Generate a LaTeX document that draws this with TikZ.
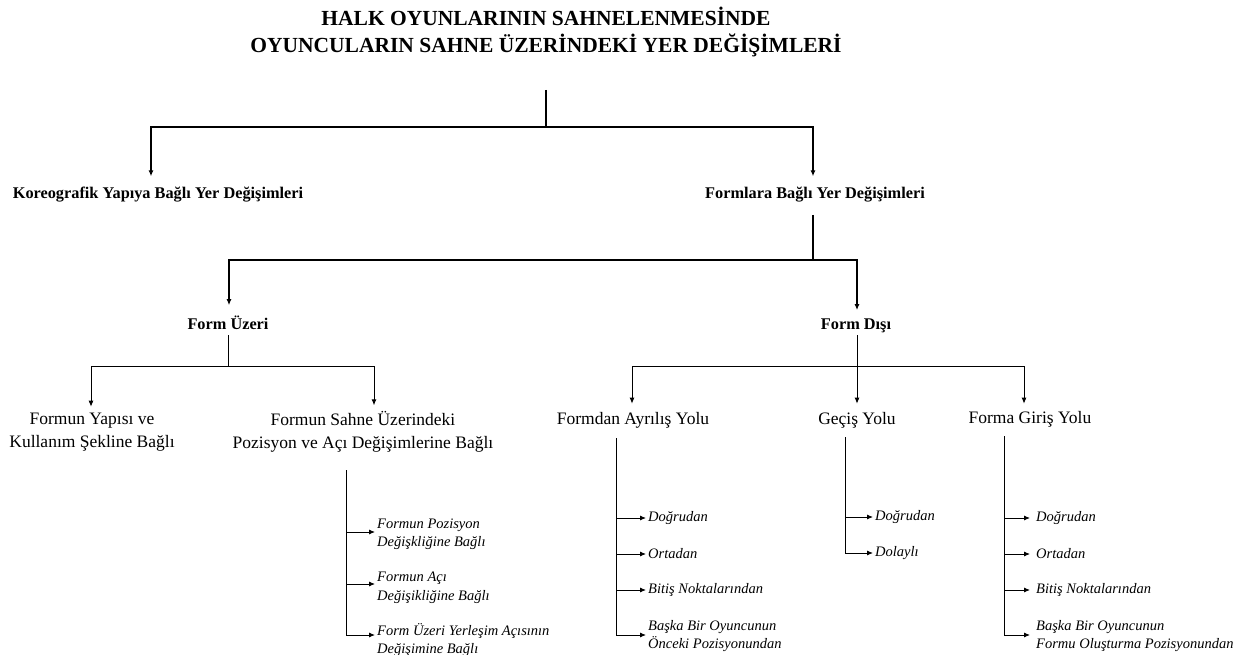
\documentclass[tikz,border=0pt]{standalone}
\usepackage{fontspec}
\setmainfont{Liberation Serif}
\usetikzlibrary{arrows.meta}
\begin{document}
\begin{tikzpicture}[x=1pt,y=-1pt,
  ttl/.style={font=\fontsize{21.5}{27}\selectfont\bfseries, align=center, inner sep=0pt},
  lvA/.style={font=\fontsize{16.3}{20}\selectfont\bfseries, inner sep=0pt, anchor=base},
  lvB/.style={font=\fontsize{17.5}{23}\selectfont, align=center, inner sep=0pt},
  lvBs/.style={font=\fontsize{17.5}{23}\selectfont, inner sep=0pt, anchor=base},
  leaf/.style={font=\fontsize{14.5}{18.5}\selectfont\itshape, align=left, anchor=west, inner sep=0pt},
  thk/.style={line width=1.8pt},
  thn/.style={line width=0.9pt},
  arr/.style={-{Latex[length=6pt,width=5pt]}}
]
\useasboundingbox (0,0) rectangle (1250,655);
\fill[white] (0,0) rectangle (1250,655);

% ---- nodes
\node[ttl] (t) at (546,32) {HALK OYUNLARININ SAHNELENMESİNDE\\OYUNCULARIN SAHNE ÜZERİNDEKİ YER DEĞİŞİMLERİ};
\node[lvA] (k) at (158,199) {Koreografik Yapıya Bağlı Yer Değişimleri};
\node[lvA] (f) at (815,199) {Formlara Bağlı Yer Değişimleri};
\node[lvA] (fu) at (228,329) {Form Üzeri};
\node[lvA] (fd) at (856,329) {Form Dışı};
\node[lvB] (c1) at (92,432) {Formun Yapısı ve\\Kullanım Şekline Bağlı};
\node[lvB] (c2) at (363,432) {Formun Sahne Üzerindeki\\Pozisyon ve Açı Değişimlerine Bağlı};
\node[lvBs] (d1) at (633,424) {Formdan Ayrılış Yolu};
\node[lvBs] (d2) at (857,424) {Geçiş Yolu};
\node[lvBs] (d3) at (1030,423) {Forma Giriş Yolu};

\node[leaf] (p1) at (377,534) {Formun Pozisyon\\Değişkliğine Bağlı};
\node[leaf] (p2) at (377,588) {Formun Açı\\Değişikliğine Bağlı};
\node[leaf] (p3) at (377,640) {Form Üzeri Yerleşim Açısının\\Değişimine Bağlı};

\node[leaf] (a1) at (648,518) {Doğrudan};
\node[leaf] (a2) at (648,554) {Ortadan};
\node[leaf] (a3) at (648,590) {Bitiş Noktalarından};
\node[leaf] (a4) at (648,636) {Başka Bir Oyuncunun\\Önceki Pozisyonundan};

\node[leaf] (g1) at (875,517) {Doğrudan};
\node[leaf] (g2) at (875,553) {Dolaylı};

\node[leaf] (e1) at (1036,518) {Doğrudan};
\node[leaf] (e2) at (1036,554) {Ortadan};
\node[leaf] (e3) at (1036,590) {Bitiş Noktalarından};
\node[leaf] (e4) at (1036,636) {Başka Bir Oyuncunun\\Formu Oluşturma Pozisyonundan};

% ---- branch coordinates
\coordinate (r0) at (546,90);
\coordinate (r1) at (546,127);
\coordinate (f0) at (813,215);
\coordinate (f1) at (813,260);
\coordinate (u0) at (228,335);
\coordinate (u1) at (228,366);
\coordinate (v0) at (857,335);
\coordinate (v1) at (857,366);
\coordinate (c2s) at (346,470);
\coordinate (d1s) at (616,438);
\coordinate (d2s) at (845,437);
\coordinate (d3s) at (1004,436);

% ---- top levels (thick)
\draw[thk] (r0) -- (r1);
\draw[thk,arr] (r1) -| ([xshift=-7pt,yshift=11pt]k.north);
\draw[thk,arr] (r1) -| ([xshift=-2pt,yshift=11pt]f.north);
\draw[thk] (f0) -- (f1);
\draw[thk,arr] (f1) -| ([xshift=1pt,yshift=10pt]fu.north);
\draw[thk,arr] (f1) -| ([xshift=1pt,yshift=8pt]fd.north);

% ---- Form Üzeri
\draw[thn] (u0) -- (u1);
\draw[thn,arr] (u1) -| ([xshift=-1pt,yshift=6pt]c1.north);
\draw[thn,arr] (u1) -| ([xshift=11pt,yshift=6pt]c2.north);

% ---- Form Dışı
\draw[thn] (v0) -- (v1);
\draw[thn,arr] (v1) -| ([xshift=-1pt,yshift=8pt]d1.north);
\draw[thn,arr] (v1) -- ([yshift=8pt]d2.north);
\draw[thn,arr] (v1) -| ([xshift=-6pt,yshift=7pt]d3.north);

% ---- leaves of c2
\coordinate (p1a) at ([xshift=-2pt,yshift=2pt]p1.west);
\coordinate (p2a) at ([xshift=-2pt,yshift=4pt]p2.west);
\coordinate (p3a) at ([xshift=-2pt,yshift=5pt]p3.west);
\draw[thn,arr] (c2s) |- (p3a);
\draw[thn,arr] (c2s |- p1a) -- (p1a);
\draw[thn,arr] (c2s |- p2a) -- (p2a);

% ---- leaves of d1
\coordinate (a1a) at ([xshift=-2pt]a1.west);
\coordinate (a2a) at ([xshift=-2pt]a2.west);
\coordinate (a3a) at ([xshift=-2pt]a3.west);
\coordinate (a4a) at ([xshift=-2pt,yshift=1pt]a4.west);
\draw[thn,arr] (d1s) |- (a4a);
\draw[thn,arr] (d1s |- a1a) -- (a1a);
\draw[thn,arr] (d1s |- a2a) -- (a2a);
\draw[thn,arr] (d1s |- a3a) -- (a3a);

% ---- leaves of d2
\coordinate (g1a) at ([xshift=-2pt]g1.west);
\coordinate (g2a) at ([xshift=-2pt]g2.west);
\draw[thn,arr] (d2s) |- (g2a);
\draw[thn,arr] (d2s |- g1a) -- (g1a);

% ---- leaves of d3
\coordinate (e1a) at ([xshift=-6pt]e1.west);
\coordinate (e2a) at ([xshift=-6pt]e2.west);
\coordinate (e3a) at ([xshift=-6pt]e3.west);
\coordinate (e4a) at ([xshift=-6pt,yshift=1pt]e4.west);
\draw[thn,arr] (d3s) |- (e4a);
\draw[thn,arr] (d3s |- e1a) -- (e1a);
\draw[thn,arr] (d3s |- e2a) -- (e2a);
\draw[thn,arr] (d3s |- e3a) -- (e3a);
\end{tikzpicture}
\end{document}
